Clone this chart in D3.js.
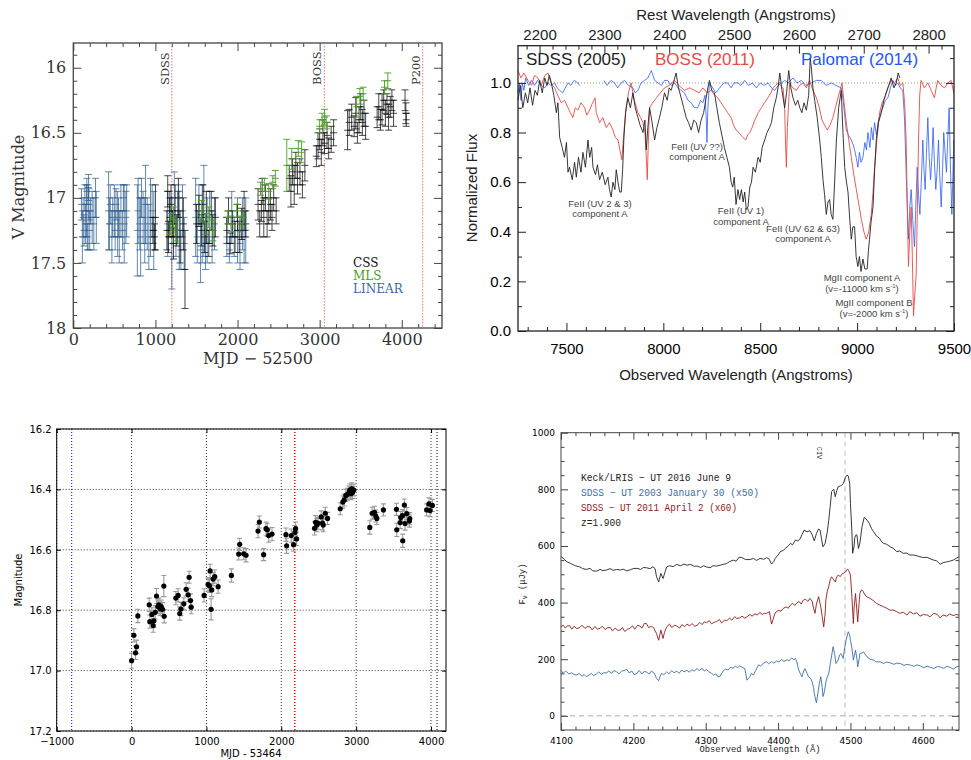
<!DOCTYPE html>
<html><head><meta charset="utf-8">
<script src="https://cdn.jsdelivr.net/npm/d3@7"></script>
<style>body{margin:0;background:#fff}svg{display:block}</style>
</head><body>
<svg id="c" width="971" height="760"></svg>
<script>
// ---------------- DATA ----------------
// Panel A: light curve [MJD-52500, V mag, error]
const linearData = [
[100,17.05,0.12],[110,17.3,0.2],[120,17.15,0.15],[130,17.25,0.12],[140,17.0,0.1],[150,17.2,0.15],[160,17.1,0.2],[165,16.95,0.1],[170,17.3,0.1],[180,17.15,0.25],[185,16.92,0.1],[190,17.05,0.12],[200,17.25,0.15],[210,17.1,0.1],[230,17.15,0.2],[250,17.2,0.2],[270,17.0,0.15],[280,17.15,0.2],
[430,17.1,0.3],[440,17.2,0.2],[450,17.05,0.15],[470,17.3,0.2],[480,17.15,0.15],[500,17.1,0.2],[510,17.25,0.15],[520,17.05,0.12],[540,17.2,0.25],[550,17.15,0.15],[560,17.3,0.2],[580,17.1,0.2],[600,17.25,0.15],[610,17.0,0.1],[620,17.2,0.3],[640,17.15,0.2],[650,17.1,0.2],
[780,17.25,0.35],[790,17.1,0.25],[810,17.2,0.2],[820,17.3,0.3],[830,17.0,0.15],[850,17.15,0.2],[870,17.25,0.25],[880,17.05,0.3],[900,17.2,0.2],[920,17.3,0.25],[940,17.15,0.3],[960,17.1,0.2],[980,17.25,0.3],
[1150,17.2,0.25],[1170,17.1,0.15],[1200,17.35,0.35],[1230,17.0,0.2],[1250,17.3,0.15],[1270,17.15,0.2],[1290,17.25,0.3],[1310,17.4,0.15],[1330,17.1,0.2],[1350,17.35,0.2],
[1490,17.15,0.3],[1510,17.3,0.2],[1530,17.05,0.15],[1550,17.4,0.25],[1570,17.2,0.3],[1590,17.1,0.35],[1610,17.35,0.2],[1630,17.25,0.25],[1660,17.15,0.2],[1690,17.3,0.2],[1720,17.2,0.2],
[1870,17.3,0.15],[1900,17.4,0.1],[1930,17.15,0.2],[1960,17.3,0.15],[2000,17.25,0.25],[2030,17.35,0.2],[2060,17.2,0.2],[2080,17.3,0.2],[2100,17.25,0.25]];
const cssData = [
[970,17.25,0.1],[990,17.3,0.1],[1000,17.15,0.25],
[1140,17.25,0.15],[1150,16.95,0.12],[1160,17.3,0.12],[1175,17.15,0.15],[1190,17.05,0.15],[1210,17.2,0.1],[1220,17.35,0.12],[1240,17.1,0.2],[1260,17.25,0.12],[1280,17.0,0.15],[1300,17.3,0.2],[1340,17.2,0.2],[1360,17.55,0.3],
[1500,17.2,0.15],[1530,17.1,0.12],[1560,17.25,0.12],[1580,17.05,0.15],[1600,17.3,0.12],[1620,17.15,0.2],[1650,17.35,0.1],[1680,17.1,0.15],[1700,17.25,0.12],[1730,17.15,0.15],
[1870,17.25,0.1],[1890,17.1,0.1],[1910,17.35,0.08],[1940,17.2,0.1],[1970,17.3,0.12],[2000,17.15,0.1],[2020,17.3,0.12],[2050,17.2,0.12],[2080,17.1,0.15],[2100,17.2,0.1],
[2250,17.05,0.12],[2270,17.2,0.1],[2290,17.1,0.08],[2300,16.95,0.1],[2320,17.15,0.15],[2340,17.0,0.1],[2360,17.2,0.1],[2380,17.1,0.1],[2400,17.05,0.12],[2420,17.15,0.1],[2440,17.0,0.1],[2470,17.1,0.1],
[2630,16.85,0.1],[2650,16.95,0.12],[2670,16.8,0.1],[2690,16.9,0.15],[2710,16.75,0.1],[2730,16.85,0.12],[2760,16.8,0.1],[2790,16.9,0.1],[2820,16.75,0.12],
[2960,16.68,0.08],[2980,16.6,0.1],[3000,16.55,0.08],[3020,16.65,0.1],[3040,16.5,0.1],[3060,16.58,0.08],[3090,16.52,0.1],[3110,16.62,0.08],[3140,16.55,0.1],[3170,16.5,0.1],
[3340,16.48,0.15],[3360,16.42,0.1],[3390,16.38,0.1],[3420,16.45,0.08],[3440,16.35,0.12],[3460,16.5,0.08],[3480,16.4,0.1],[3500,16.3,0.1],[3520,16.42,0.1],[3540,16.35,0.1],[3560,16.45,0.1],
[3700,16.38,0.08],[3720,16.3,0.1],[3740,16.4,0.08],[3760,16.32,0.12],[3780,16.25,0.08],[3800,16.35,0.1],[3820,16.28,0.08],[3840,16.38,0.1],[3860,16.3,0.08],[3880,16.25,0.08],[3900,16.35,0.1],
[4040,16.25,0.08],[4050,16.35,0.08],[4055,16.4,0.05]];
const mlsData = [
[1180,17.2,0.08],[1220,17.15,0.08],[1250,17.25,0.08],
[1560,17.1,0.08],[1610,17.2,0.08],[1650,17.15,0.08],[1700,17.25,0.08],
[1880,17.15,0.05],[1920,17.2,0.06],[1990,17.1,0.05],[2030,17.2,0.06],[2070,17.15,0.05],
[2280,16.93,0.05],[2330,16.9,0.05],[2380,16.95,0.06],[2430,16.88,0.05],[2460,16.85,0.06],
[2600,16.75,0.2],[2660,16.7,0.08],[2740,16.62,0.06],[2780,16.65,0.08],
[3000,16.45,0.05],[3030,16.4,0.05],[3060,16.38,0.06],[3080,16.42,0.05],
[3450,16.3,0.08],[3490,16.22,0.06],[3530,16.2,0.05],
[3790,16.15,0.05],[3830,16.1,0.06]];
const epochNames = ["SDSS","BOSS","P200"];
const epochMJD = [1200,3057,4255];
const surveyNames = ["CSS","MLS","LINEAR"];

// Panel B: normalized spectra [observed wavelength, flux]
const sdss2005 = [[7250,0.93],[7262,0.99],[7275,0.9],[7288,0.96],[7300,0.92],[7312,0.98],[7325,0.91],[7338,0.97],[7350,0.95],[7362,1.01],[7375,0.96],[7388,1.02],[7400,0.99],[7412,1.03],[7422,1.0],[7435,0.95],[7448,0.88],[7456,0.92],[7465,0.78],[7478,0.74],[7490,0.7],[7500,0.76],[7508,0.64],[7516,0.66],[7530,0.61],[7542,0.68],[7551,0.62],[7562,0.7],[7575,0.64],[7585,0.72],[7598,0.66],[7611,0.77],[7620,0.7],[7630,0.74],[7637,0.66],[7650,0.63],[7660,0.67],[7671,0.61],[7685,0.64],[7700,0.59],[7714,0.62],[7722,0.57],[7731,0.54],[7740,0.6],[7750,0.57],[7757,0.65],[7766,0.6],[7775,0.56],[7783,0.56],[7790,0.65],[7796,0.77],[7805,0.88],[7817,0.94],[7830,0.9],[7843,0.96],[7855,0.9],[7869,0.86],[7880,0.83],[7895,0.8],[7905,0.85],[7912,0.73],[7920,0.82],[7929,0.9],[7940,0.85],[7955,0.77],[7967,0.82],[7980,0.86],[7992,0.9],[8006,0.96],[8020,0.93],[8030,0.98],[8040,0.97],[8052,1.0],[8066,1.04],[8078,0.98],[8092,0.94],[8105,0.9],[8118,0.86],[8130,0.84],[8144,0.81],[8157,0.85],[8170,0.84],[8182,0.8],[8195,0.85],[8208,0.88],[8221,0.94],[8230,0.98],[8238,1.01],[8250,0.97],[8264,0.96],[8276,0.9],[8289,0.84],[8302,0.79],[8315,0.74],[8328,0.7],[8341,0.66],[8350,0.6],[8358,0.58],[8366,0.62],[8375,0.51],[8385,0.57],[8394,0.53],[8403,0.57],[8412,0.52],[8420,0.56],[8428,0.49],[8437,0.5],[8446,0.58],[8455,0.6],[8463,0.66],[8475,0.64],[8489,0.7],[8500,0.68],[8510,0.74],[8523,0.77],[8535,0.8],[8548,0.82],[8558,0.84],[8570,0.9],[8583,0.94],[8592,0.98],[8601,1.04],[8612,0.97],[8626,0.9],[8636,0.96],[8647,1.05],[8658,0.98],[8669,0.94],[8682,0.91],[8694,0.93],[8704,0.9],[8715,0.88],[8726,0.92],[8738,0.89],[8750,0.95],[8758,1.1],[8764,1.06],[8772,0.98],[8781,0.93],[8794,0.86],[8807,0.77],[8815,0.7],[8824,0.61],[8832,0.55],[8841,0.47],[8850,0.52],[8858,0.53],[8866,0.47],[8875,0.45],[8884,0.6],[8893,0.77],[8905,0.9],[8918,0.97],[8927,0.8],[8936,0.66],[8945,0.6],[8953,0.56],[8962,0.45],[8970,0.37],[8978,0.42],[8987,0.42],[8995,0.3],[9004,0.26],[9012,0.3],[9020,0.24],[9030,0.29],[9040,0.25],[9052,0.25],[9058,0.32],[9064,0.37],[9072,0.44],[9082,0.5],[9090,0.64],[9099,0.77],[9110,0.84],[9125,0.88],[9138,0.93],[9150,0.96],[9163,0.99],[9176,1.02],[9190,0.98],[9202,1.0],[9212,1.04],[9220,1.02]];
const boss2011 = [[7250,1.05],[7265,1.02],[7280,1.04],[7302,1.01],[7320,0.99],[7335,1.03],[7353,1.02],[7370,0.99],[7388,1.03],[7405,1.04],[7420,1.0],[7439,0.98],[7455,0.95],[7473,0.92],[7490,0.93],[7508,0.9],[7520,0.88],[7533,0.86],[7546,0.9],[7559,0.89],[7575,0.92],[7594,0.9],[7605,0.87],[7619,0.89],[7635,0.92],[7648,0.94],[7654,0.88],[7671,0.84],[7688,0.86],[7706,0.82],[7722,0.84],[7740,0.81],[7752,0.78],[7766,0.77],[7776,0.73],[7786,0.69],[7796,0.8],[7808,0.9],[7820,0.96],[7834,1.0],[7850,0.93],[7869,0.88],[7883,0.86],[7895,0.84],[7905,0.8],[7912,0.7],[7917,0.61],[7922,0.75],[7929,0.9],[7945,0.92],[7964,0.94],[7985,0.96],[8006,0.98],[8030,0.99],[8058,1.01],[8080,0.99],[8109,0.97],[8135,0.98],[8161,0.97],[8185,0.96],[8204,0.98],[8225,0.96],[8247,0.97],[8265,0.95],[8281,0.94],[8298,0.92],[8315,0.9],[8332,0.88],[8350,0.86],[8362,0.83],[8375,0.81],[8390,0.8],[8400,0.79],[8411,0.78],[8425,0.77],[8435,0.79],[8446,0.8],[8458,0.82],[8472,0.85],[8490,0.88],[8506,0.9],[8522,0.92],[8540,0.94],[8555,0.96],[8566,0.98],[8580,0.99],[8592,1.0],[8605,0.99],[8618,0.98],[8626,0.9],[8631,0.75],[8635,0.66],[8640,0.82],[8652,1.0],[8668,0.98],[8686,0.97],[8703,0.99],[8721,1.0],[8738,0.98],[8755,1.01],[8772,0.97],[8790,0.94],[8805,0.9],[8819,0.85],[8832,0.83],[8846,0.81],[8860,0.83],[8875,0.86],[8888,0.9],[8901,0.94],[8912,0.97],[8922,1.0],[8933,0.92],[8944,0.84],[8957,0.77],[8970,0.7],[8983,0.63],[8996,0.57],[9009,0.51],[9022,0.45],[9035,0.4],[9047,0.37],[9060,0.4],[9073,0.47],[9082,0.56],[9090,0.66],[9103,0.78],[9116,0.88],[9129,0.92],[9142,0.94],[9159,0.98],[9176,1.01],[9193,1.0],[9210,1.02],[9222,0.99],[9236,1.0],[9245,0.92],[9253,0.77],[9259,0.5],[9265,0.26],[9272,0.4],[9279,0.5],[9285,0.3],[9291,0.06],[9298,0.15],[9305,0.23],[9311,0.5],[9317,0.77],[9323,0.95],[9330,1.01],[9347,0.98],[9365,1.0],[9382,0.97],[9399,0.94],[9408,0.98],[9416,1.01],[9433,0.99],[9451,0.98],[9468,1.0],[9485,1.01],[9499,0.96]];
const palomar2014 = [[7250,0.96],[7258,1.0],[7265,0.93],[7272,1.0],[7280,0.97],[7290,1.02],[7305,0.99],[7319,1.01],[7335,0.99],[7350,1.01],[7370,0.99],[7388,0.98],[7405,1.0],[7420,0.99],[7439,1.0],[7452,0.98],[7465,0.97],[7480,0.96],[7494,0.98],[7508,1.0],[7522,0.99],[7540,1.01],[7559,1.0],[7568,0.99],[7569,null],[7690,null],[7693,1.01],[7710,0.99],[7730,1.01],[7748,1.0],[7765,0.98],[7782,1.0],[7800,1.01],[7820,0.99],[7843,0.98],[7855,0.96],[7869,0.97],[7885,1.0],[7903,1.01],[7920,1.02],[7938,1.05],[7955,1.01],[7972,1.0],[7990,0.99],[8006,1.01],[8023,1.01],[8040,0.99],[8058,1.0],[8075,0.98],[8092,0.97],[8109,0.96],[8127,0.93],[8144,0.92],[8160,0.9],[8178,0.9],[8192,0.93],[8204,0.92],[8215,0.95],[8222,0.85],[8225,0.76],[8230,0.9],[8238,1.0],[8255,0.98],[8270,0.96],[8281,0.97],[8300,0.99],[8315,1.0],[8332,1.0],[8350,0.98],[8365,1.0],[8384,1.0],[8400,0.99],[8420,1.01],[8440,0.99],[8460,1.0],[8480,0.98],[8500,1.0],[8520,0.99],[8540,1.0],[8558,0.98],[8575,0.97],[8592,0.99],[8610,1.0],[8626,1.01],[8645,1.0],[8669,1.02],[8690,1.0],[8712,1.01],[8735,0.99],[8764,1.0],[8790,1.01],[8815,1.01],[8840,0.99],[8867,1.0],[8890,0.99],[8918,0.98],[8928,0.93],[8936,0.87],[8944,0.81],[8955,0.79],[8970,0.77],[8980,0.75],[8987,0.73],[8995,0.7],[9004,0.66],[9012,0.72],[9020,0.68],[9030,0.7],[9040,0.76],[9048,0.73],[9056,0.8],[9066,0.74],[9074,0.82],[9082,0.77],[9090,0.84],[9100,0.79],[9108,0.84],[9120,0.88],[9133,0.9],[9146,0.93],[9159,0.94],[9172,0.98],[9185,1.01],[9197,0.99],[9210,1.0],[9222,0.98],[9236,0.97],[9245,0.85],[9253,0.64],[9259,0.5],[9265,0.37],[9272,0.5],[9279,0.57],[9287,0.45],[9296,0.34],[9303,0.5],[9310,0.66],[9317,0.55],[9324,0.47],[9331,0.6],[9339,0.77],[9345,0.65],[9351,0.57],[9358,0.72],[9365,0.86],[9372,0.7],[9379,0.61],[9386,0.7],[9392,0.82],[9399,0.68],[9406,0.57],[9413,0.65],[9420,0.77],[9427,0.62],[9434,0.5],[9441,0.65],[9447,0.8],[9454,0.72],[9461,0.64],[9468,0.78],[9475,0.9],[9482,0.65],[9489,0.47],[9494,0.62],[9499,0.77]];
const specLegend = ["SDSS (2005)","BOSS (2011)","Palomar (2014)"];
const annotations = [
 {lines:["FeII (UV 2 & 3)","component A"], w:7673, f:0.50},
 {lines:["FeII (UV ??)","component A"], w:8174, f:0.73},
 {lines:["FeII (UV 1)","component A"], w:8401, f:0.47},
 {lines:["FeII (UV 62 & 63)","component A"], w:8721, f:0.40},
 {lines:["MgII component A","(v=-11000 km s","-1",")"], w:9025, f:0.20},
 {lines:["MgII component B","(v=-2000 km s","-1",")"], w:9087, f:0.10}];
const zRest = 2.346;

// Panel C: light curve [MJD-53464, mag, err]
const magData = [[0,16.967,0.025],[31,16.883,0.022],[53,16.941,0.022],[67,16.921,0.022],[84,16.819,0.022],[236,16.782,0.022],[244,16.838,0.022],[271,16.814,0.022],[289,16.851,0.022],[298,16.835,0.022],[316,16.807,0.022],[333,16.753,0.025],[351,16.788,0.022],[364,16.782,0.022],[382,16.795,0.022],[396,16.788,0.022],[413,16.797,0.022],[431,16.72,0.035],[436,16.82,0.022],[591,16.76,0.022],[622,16.751,0.022],[644,16.811,0.022],[658,16.796,0.022],[698,16.779,0.02],[729,16.731,0.022],[756,16.749,0.022],[769,16.691,0.02],[787,16.768,0.022],[796,16.79,0.022],[969,16.751,0.022],[1022,16.715,0.022],[1040,16.719,0.022],[1049,16.67,0.022],[1062,16.797,0.035],[1071,16.733,0.022],[1089,16.697,0.022],[1111,16.689,0.022],[1156,16.722,0.022],[1333,16.685,0.022],[1431,16.614,0.02],[1444,16.582,0.02],[1498,16.613,0.02],[1529,16.618,0.022],[1689,16.538,0.022],[1707,16.508,0.02],[1764,16.616,0.02],[1796,16.53,0.022],[1813,16.534,0.022],[1831,16.553,0.022],[1876,16.548,0.022],[2062,16.55,0.022],[2071,16.587,0.025],[2133,16.553,0.022],[2164,16.583,0.022],[2182,16.542,0.022],[2191,16.53,0.022],[2204,16.564,0.022],[2444,16.529,0.022],[2458,16.509,0.022],[2476,16.518,0.022],[2489,16.512,0.02],[2533,16.491,0.02],[2551,16.512,0.022],[2560,16.518,0.022],[2587,16.479,0.02],[2618,16.496,0.02],[2787,16.464,0.02],[2822,16.442,0.02],[2840,16.435,0.02],[2862,16.42,0.02],[2884,16.416,0.02],[2907,16.409,0.02],[2916,16.402,0.02],[2929,16.414,0.02],[2942,16.398,0.02],[2951,16.41,0.02],[2969,16.402,0.02],[3182,16.526,0.022],[3213,16.479,0.02],[3244,16.476,0.02],[3262,16.488,0.02],[3276,16.496,0.02],[3364,16.468,0.02],[3538,16.466,0.02],[3542,16.534,0.022],[3587,16.51,0.02],[3596,16.493,0.02],[3618,16.487,0.02],[3622,16.57,0.022],[3644,16.452,0.02],[3653,16.513,0.022],[3676,16.48,0.02],[3711,16.505,0.02],[3716,16.497,0.02],[3942,16.468,0.02],[3973,16.448,0.02],[3987,16.47,0.02],[4018,16.453,0.02]];
const refLinesC = [[-800,"#0000ff"],[2180,"#ff0000"],[4080,"#000000"]];

// Panel D: spectra [observed wavelength, F_nu microJy]
const keck2016 = [[4100,562],[4104,555],[4108,544],[4112,540],[4115,536],[4120,530],[4126,526],[4130,520],[4135,517],[4140,521],[4144,512],[4149,511],[4154,517],[4158,513],[4163,515],[4168,520],[4172,514],[4177,517],[4182,515],[4186,518],[4191,512],[4196,516],[4200,520],[4205,521],[4210,517],[4214,524],[4218,523],[4223,520],[4227,526],[4230,520],[4232,491],[4235,473],[4238,503],[4241,485],[4244,510],[4246,526],[4250,530],[4255,527],[4260,535],[4265,530],[4270,536],[4274,532],[4279,535],[4284,528],[4288,529],[4293,524],[4297,530],[4301,526],[4306,523],[4310,530],[4315,529],[4320,532],[4324,535],[4329,538],[4333,545],[4338,550],[4342,546],[4346,560],[4350,559],[4355,552],[4361,552],[4366,556],[4370,549],[4375,556],[4380,553],[4384,558],[4387,556],[4391,536],[4394,545],[4396,556],[4400,568],[4403,580],[4407,584],[4410,591],[4414,600],[4417,609],[4420,604],[4424,621],[4427,618],[4430,623],[4433,640],[4436,656],[4440,650],[4444,654],[4447,640],[4450,618],[4453,644],[4456,660],[4458,656],[4460,625],[4462,597],[4465,609],[4468,650],[4470,691],[4472,740],[4474,792],[4477,800],[4479,774],[4481,795],[4483,809],[4486,812],[4488,815],[4490,820],[4493,842],[4495,850],[4497,847],[4499,820],[4500,750],[4502,650],[4503,574],[4505,600],[4506,630],[4508,640],[4509,638],[4511,591],[4513,610],[4516,668],[4519,701],[4521,697],[4523,691],[4526,680],[4529,662],[4532,650],[4536,635],[4540,628],[4543,615],[4546,609],[4550,606],[4555,597],[4559,592],[4564,580],[4568,582],[4573,574],[4578,575],[4582,568],[4587,568],[4592,565],[4596,562],[4601,559],[4606,560],[4610,555],[4615,550],[4619,548],[4622,540],[4624,535],[4628,541],[4633,544],[4637,546],[4642,550],[4646,556],[4650,562]];
const sdss2011 = [[4100,314],[4103,320],[4106,310],[4109,318],[4112,318],[4115,306],[4118,316],[4122,308],[4126,312],[4129,320],[4133,309],[4136,315],[4140,314],[4143,304],[4147,316],[4150,306],[4154,309],[4157,317],[4161,305],[4164,311],[4168,312],[4171,300],[4175,310],[4178,302],[4182,303],[4185,312],[4188,298],[4192,306],[4195,309],[4199,318],[4202,306],[4206,320],[4209,317],[4212,310],[4215,326],[4218,326],[4221,312],[4225,316],[4228,312],[4230,300],[4232,291],[4235,267],[4238,303],[4241,273],[4243,295],[4246,314],[4250,324],[4253,312],[4257,320],[4260,317],[4264,310],[4267,322],[4271,315],[4274,324],[4278,318],[4281,326],[4285,316],[4288,320],[4292,330],[4295,322],[4298,332],[4301,329],[4305,336],[4308,325],[4312,331],[4315,333],[4319,340],[4322,328],[4326,338],[4329,336],[4333,345],[4336,338],[4340,350],[4343,344],[4347,346],[4350,352],[4354,345],[4357,350],[4361,358],[4364,352],[4368,360],[4371,356],[4375,365],[4378,358],[4381,362],[4384,362],[4388,368],[4391,324],[4393,340],[4396,364],[4400,372],[4404,370],[4407,379],[4411,385],[4414,380],[4417,391],[4420,398],[4423,390],[4426,399],[4429,404],[4432,395],[4435,409],[4438,412],[4441,404],[4444,415],[4447,405],[4449,380],[4451,362],[4453,395],[4456,421],[4459,385],[4461,350],[4463,314],[4465,360],[4466,409],[4468,440],[4470,456],[4472,480],[4474,491],[4477,480],[4479,473],[4481,490],[4483,497],[4486,492],[4488,500],[4490,503],[4493,508],[4496,518],[4498,510],[4500,497],[4502,421],[4504,326],[4505,380],[4507,432],[4508,400],[4510,332],[4512,400],[4513,432],[4515,445],[4517,442],[4520,427],[4523,420],[4527,415],[4531,408],[4536,397],[4540,392],[4546,385],[4550,380],[4555,373],[4559,374],[4564,368],[4568,362],[4573,366],[4578,356],[4582,368],[4587,360],[4592,364],[4596,352],[4601,358],[4606,356],[4610,350],[4615,362],[4620,358],[4624,346],[4628,356],[4633,352],[4637,360],[4642,354],[4646,358],[4650,356]];
const sdss2003 = [[4100,161],[4103,150],[4106,158],[4108,155],[4111,148],[4115,152],[4118,146],[4122,144],[4125,150],[4129,140],[4132,146],[4135,138],[4139,145],[4142,150],[4145,142],[4149,148],[4152,155],[4156,147],[4159,152],[4163,152],[4166,158],[4170,150],[4173,160],[4177,155],[4180,148],[4184,158],[4187,160],[4191,164],[4194,152],[4198,158],[4201,145],[4205,150],[4208,160],[4212,148],[4215,157],[4218,155],[4222,148],[4225,158],[4229,150],[4232,132],[4235,124],[4237,140],[4239,150],[4242,145],[4246,155],[4249,148],[4253,160],[4256,152],[4260,158],[4263,150],[4267,162],[4270,155],[4274,161],[4277,154],[4281,163],[4284,158],[4288,167],[4291,160],[4295,168],[4298,158],[4301,164],[4304,156],[4308,150],[4311,144],[4314,148],[4317,138],[4320,140],[4324,158],[4327,165],[4331,162],[4334,171],[4338,168],[4341,176],[4344,170],[4347,176],[4350,172],[4354,167],[4356,140],[4357,126],[4359,132],[4361,138],[4363,150],[4366,144],[4369,160],[4373,180],[4376,176],[4380,186],[4384,191],[4387,184],[4391,192],[4394,186],[4398,194],[4401,190],[4405,199],[4408,192],[4412,198],[4415,195],[4419,204],[4422,198],[4424,203],[4426,190],[4428,167],[4430,152],[4433,138],[4435,155],[4437,167],[4440,150],[4442,138],[4445,132],[4447,120],[4449,100],[4450,79],[4452,55],[4453,46],[4455,80],[4457,114],[4459,138],[4461,100],[4462,68],[4464,85],[4465,103],[4467,130],[4470,150],[4473,197],[4476,244],[4478,220],[4480,185],[4483,197],[4485,215],[4487,220],[4490,203],[4492,240],[4494,267],[4497,297],[4499,285],[4500,267],[4502,240],[4504,197],[4506,220],[4507,232],[4509,200],[4510,173],[4512,200],[4513,220],[4516,222],[4518,226],[4521,215],[4523,208],[4527,200],[4532,197],[4536,190],[4541,191],[4546,185],[4550,190],[4555,187],[4560,182],[4564,186],[4569,185],[4574,178],[4578,182],[4583,179],[4588,175],[4592,180],[4597,176],[4601,170],[4606,175],[4611,171],[4615,167],[4620,174],[4624,173],[4629,168],[4633,175],[4638,171],[4642,165],[4646,172],[4650,176]];
const keckLegend = ["Keck/LRIS \u2212 UT 2016 June 9","SDSS \u2212 UT 2003 January 30 (x50)","SDSS \u2212 UT 2011 April 2 (x60)","z=1.900"];
const civObserved = 4492.5;

// ---------------- HELPERS ----------------
const svg = d3.select("#c");
svg.append("rect").attr("width",971).attr("height",760).attr("fill","#fff");

function frame(g, x, y, o) {
  const [x0,x1] = x.range(), [y0,y1] = y.range();
  const sty = (sel, fs) => { sel.select(".domain").remove();
    sel.selectAll("line").attr("stroke", o.color).attr("stroke-width", o.sw||1);
    sel.selectAll("text").attr("font-family", o.font).attr("font-size", fs||o.fs).attr("fill", o.textColor||"#000"); };
  g.append("g").attr("transform",`translate(0,${y0})`).call(d3.axisBottom(x).tickValues(o.xMajor).tickSize(-o.maj).tickPadding(o.xPad).tickFormat(o.xFmt)).call(s=>sty(s));
  if (o.xMinor) g.append("g").attr("transform",`translate(0,${y0})`).call(d3.axisBottom(x).tickValues(o.xMinor).tickSize(-o.min).tickFormat("")).call(s=>sty(s));
  if (!o.noTop) {
    g.append("g").attr("transform",`translate(0,${y1})`).call(d3.axisTop(x).tickValues(o.xMajor).tickSize(-o.maj).tickFormat("")).call(s=>sty(s));
    if (o.xMinor) g.append("g").attr("transform",`translate(0,${y1})`).call(d3.axisTop(x).tickValues(o.xMinor).tickSize(-o.min).tickFormat("")).call(s=>sty(s));
  }
  g.append("g").attr("transform",`translate(${x0},0)`).call(d3.axisLeft(y).tickValues(o.yMajor).tickSize(-o.maj).tickPadding(o.yPad).tickFormat(o.yFmt)).call(s=>sty(s));
  if (o.yMinor) g.append("g").attr("transform",`translate(${x0},0)`).call(d3.axisLeft(y).tickValues(o.yMinor).tickSize(-o.min).tickFormat("")).call(s=>sty(s));
  g.append("g").attr("transform",`translate(${x1},0)`).call(d3.axisRight(y).tickValues(o.yMajor).tickSize(-o.maj).tickFormat("")).call(s=>sty(s));
  if (o.yMinor) g.append("g").attr("transform",`translate(${x1},0)`).call(d3.axisRight(y).tickValues(o.yMinor).tickSize(-o.min).tickFormat("")).call(s=>sty(s));
  g.append("rect").attr("x",x0).attr("y",y1).attr("width",x1-x0).attr("height",y0-y1)
    .attr("fill","none").attr("stroke",o.color).attr("stroke-width",o.frameW||1.2);
}
const rng = (a,b,s) => d3.range(a, b+s/2, s).map(v=>+v.toFixed(4));

// ---------------- PANEL A ----------------
{
  const g = svg.append("g");
  const x = d3.scaleLinear().domain([0,4490]).range([73.3,442]);
  const y = d3.scaleLinear().domain([18,15.81]).range([328,43]);
  const xMajor = rng(0,4000,1000), yMajor = [16,16.5,17,17.5,18];
  frame(g,x,y,{xMajor, xMinor: rng(0,4400,200).filter(v=>v%1000), yMajor, yMinor: rng(15.9,17.9,0.1).filter(v=>Math.abs(v*2-Math.round(v*2))>1e-6),
    maj:8, min:4, xPad:6, yPad:7, xFmt:d=>d, yFmt:d=>d, font:"'DejaVu Serif', serif", fs:16, color:"#444", textColor:"#333", frameW:1.3});
  epochMJD.forEach((m,i)=>{
    g.append("line").attr("x1",x(m)).attr("x2",x(m)).attr("y1",y.range()[1]).attr("y2",y.range()[0])
      .attr("stroke","#f07070").attr("stroke-width",1).attr("stroke-dasharray","1.5,1.5");
    g.append("text").attr("transform",`translate(${x(m)-3},85) rotate(-90)`).text(epochNames[i])
      .attr("font-family","'DejaVu Serif', serif").attr("font-size",11.5).attr("fill","#333");
  });
  function eb(data, color, op) {
    const s = g.append("g").attr("stroke",color).attr("stroke-opacity",op).attr("stroke-width",1).attr("fill","none");
    data.forEach(([m,v,e])=>{
      const px = x(m), a = y(v-e), b = y(v+e), c = y(v);
      s.append("path").attr("d",`M${px},${a}V${b}M${px-3.5},${a}H${px+3.5}M${px-3.5},${b}H${px+3.5}M${px-3.5},${c}H${px+3.5}`);
    });
  }
  eb(linearData,"#285a8e",0.72);
  eb(cssData,"#000",0.72);
  eb(mlsData,"#4a9d22",0.9);
  const legCol = ["#111","#4a9d22","#3a6aa0"];
  surveyNames.forEach((t,i)=> g.append("text").attr("x",353).attr("y",267+i*13).text(t)
    .attr("font-family","'DejaVu Serif', serif").attr("font-size",12).attr("fill",legCol[i]));
  g.append("text").attr("x",258).attr("y",364).attr("text-anchor","middle").text("MJD \u2212 52500")
    .attr("font-family","'DejaVu Serif', serif").attr("font-size",16).attr("fill","#333");
  g.append("text").attr("transform","translate(24,187) rotate(-90)").attr("text-anchor","middle").text("V Magnitude")
    .attr("font-family","'DejaVu Serif', serif").attr("font-size",16).attr("fill","#333");
}

// ---------------- PANEL B ----------------
{
  const g = svg.append("g");
  const x = d3.scaleLinear().domain([7250,9500]).range([518,954]);
  const y = d3.scaleLinear().domain([0,1.15]).range([331,45.7]);
  const xr = d3.scaleLinear().domain([7250/(1+zRest),9500/(1+zRest)]).range([518,954]);
  const font = "'Liberation Sans', Arial, sans-serif";
  g.append("line").attr("x1",518).attr("x2",954).attr("y1",y(1)).attr("y2",y(1))
    .attr("stroke","#999").attr("stroke-width",1).attr("stroke-dasharray","1,2");
  const line = d3.line().defined(d=>d[1]!==null).x(d=>x(d[0])).y(d=>y(d[1]));
  g.append("path").datum(palomar2014).attr("d",line).attr("fill","none").attr("stroke","#2456f5").attr("stroke-width",0.9).attr("stroke-opacity",0.85);
  g.append("path").datum(boss2011).attr("d",line).attr("fill","none").attr("stroke","#e84a45").attr("stroke-width",0.9);
  g.append("path").datum(sdss2005).attr("d",line).attr("fill","none").attr("stroke","#222").attr("stroke-width",0.9);
  frame(g,x,y,{xMajor:rng(7500,9500,500), xMinor:rng(7300,9400,100).filter(v=>v%500), yMajor:rng(0,1,0.2), yMinor:[0.1,0.3,0.5,0.7,0.9,1.1],
    maj:8, min:4, xPad:12, yPad:7, xFmt:d=>d, yFmt:d3.format(".1f"), font, fs:15, color:"#222", noTop:true, frameW:1.3});
  g.append("g").attr("transform","translate(0,45.7)").call(d3.axisTop(xr).tickValues(rng(2200,2800,100)).tickSize(-8).tickPadding(6).tickFormat(d=>d))
    .call(s=>{s.select(".domain").remove(); s.selectAll("line").attr("stroke","#222"); s.selectAll("text").attr("font-family",font).attr("font-size",15).attr("fill","#222");});
  g.append("g").attr("transform","translate(0,45.7)").call(d3.axisTop(xr).tickValues(rng(2180,2830,20).filter(v=>v%100)).tickSize(-4).tickFormat(""))
    .call(s=>{s.select(".domain").remove(); s.selectAll("line").attr("stroke","#222");});
  g.append("text").attr("x",736).attr("y",20).attr("text-anchor","middle").text("Rest Wavelength (Angstroms)").attr("font-family",font).attr("font-size",15).attr("fill","#222");
  g.append("text").attr("x",736).attr("y",380).attr("text-anchor","middle").text("Observed Wavelength (Angstroms)").attr("font-family",font).attr("font-size",15).attr("fill","#222");
  g.append("text").attr("transform","translate(477,188) rotate(-90)").attr("text-anchor","middle").text("Normalized Flux").attr("font-family",font).attr("font-size",15).attr("fill","#222");
  const legX = [526,655,801], legC = ["#222","#e84a45","#2456f5"];
  specLegend.forEach((t,i)=> g.append("text").attr("x",legX[i]).attr("y",65).text(t).attr("font-family",font).attr("font-size",17).attr("fill",legC[i]));
  annotations.forEach(a=>{
    const t = g.append("text").attr("x",x(a.w)).attr("y",y(a.f)).attr("text-anchor","middle")
      .attr("font-family",font).attr("font-size",9.5).attr("fill","#444");
    t.append("tspan").attr("x",x(a.w)).attr("dy",0).text(a.lines[0]);
    t.append("tspan").attr("x",x(a.w)).attr("dy",10.5).text(a.lines[1]);
    if (a.lines.length>2) {
      t.append("tspan").attr("dy",-4).attr("font-size",6).text(a.lines[2]);
      t.append("tspan").attr("dy",4).text(a.lines[3]);
    }
  });
}

// ---------------- PANEL C ----------------
{
  const g = svg.append("g");
  const x = d3.scaleLinear().domain([-1000,4200]).range([56.7,446]);
  const y = d3.scaleLinear().domain([17.2,16.2]).range([731,429]);
  const font = "'DejaVu Sans', sans-serif";
  const xMajor = rng(-1000,4000,1000), yMajor = rng(16.2,17.2,0.2);
  xMajor.forEach(v=> g.append("line").attr("x1",x(v)).attr("x2",x(v)).attr("y1",429).attr("y2",731).attr("stroke","#000").attr("stroke-width",0.8).attr("stroke-dasharray","1,2"));
  yMajor.forEach(v=> g.append("line").attr("x1",56.7).attr("x2",446).attr("y1",y(v)).attr("y2",y(v)).attr("stroke","#000").attr("stroke-width",0.8).attr("stroke-dasharray","1,2"));
  refLinesC.forEach(([m,c])=> g.append("line").attr("x1",x(m)).attr("x2",x(m)).attr("y1",429).attr("y2",731)
    .attr("stroke",c).attr("stroke-width",c==="#ff0000"?1.6:1).attr("stroke-dasharray","1,2"));
  const e = g.append("g").attr("stroke","#999").attr("stroke-width",1.1).attr("fill","none");
  magData.forEach(([m,v,er])=>{
    const px=x(m), a=y(v-er), b=y(v+er);
    e.append("path").attr("d",`M${px},${a}V${b}M${px-2.5},${a}H${px+2.5}M${px-2.5},${b}H${px+2.5}`);
  });
  g.append("g").selectAll("circle").data(magData).join("circle").attr("cx",d=>x(d[0])).attr("cy",d=>y(d[1])).attr("r",2.6).attr("fill","#000");
  frame(g,x,y,{xMajor, yMajor, maj:4, min:0, xPad:7, yPad:5, xFmt:d=>d<0?"\u2212"+Math.abs(d):d, yFmt:d3.format(".1f"), font, fs:10, color:"#000", frameW:1});
  g.append("text").attr("x",251).attr("y",757).attr("text-anchor","middle").text("MJD - 53464").attr("font-family",font).attr("font-size",10);
  g.append("text").attr("transform","translate(22,580) rotate(-90)").attr("text-anchor","middle").text("Magnitude").attr("font-family",font).attr("font-size",10);
}

// ---------------- PANEL D ----------------
{
  const g = svg.append("g");
  const x = d3.scaleLinear().domain([4100,4650]).range([561,959]);
  const y = d3.scaleLinear().domain([-50,1000]).range([730,432.7]);
  const mono = "'Liberation Mono', 'DejaVu Sans Mono', monospace";
  g.append("line").attr("x1",561).attr("x2",959).attr("y1",y(0)).attr("y2",y(0)).attr("stroke","#aaa").attr("stroke-dasharray","5,4");
  g.append("line").attr("x1",x(civObserved)).attr("x2",x(civObserved)).attr("y1",432.7).attr("y2",730).attr("stroke","#bbb").attr("stroke-dasharray","5,4");
  const line = d3.line().x(d=>x(d[0])).y(d=>y(d[1]));
  g.append("path").datum(sdss2003).attr("d",line).attr("fill","none").attr("stroke","#3c6da6").attr("stroke-width",0.9);
  g.append("path").datum(sdss2011).attr("d",line).attr("fill","none").attr("stroke","#8e1b1b").attr("stroke-width",0.9);
  g.append("path").datum(keck2016).attr("d",line).attr("fill","none").attr("stroke","#222").attr("stroke-width",0.9);
  frame(g,x,y,{xMajor:rng(4100,4600,100), xMinor:rng(4120,4640,20).filter(v=>v%100), yMajor:rng(0,1000,200), yMinor:rng(-50,950,50).filter(v=>v%200),
    maj:7, min:3.5, xPad:8, yPad:6, xFmt:d=>d, yFmt:d=>d, font:"'DejaVu Sans', sans-serif", fs:9, color:"#444", frameW:1});
  const legC = ["#222","#3c6da6","#8e1b1b","#222"];
  const legW = [150,178,156,40];
  keckLegend.forEach((t,i)=> g.append("text").attr("x",581).attr("y",481+i*15).text(t)
    .attr("textLength",legW[i]).attr("lengthAdjust","spacingAndGlyphs")
    .attr("font-family",mono).attr("font-size",10).attr("fill",legC[i]));
  g.append("text").attr("transform",`translate(${x(civObserved)-28},453) rotate(90)`).attr("text-anchor","middle").text("CIV")
    .attr("font-family",mono).attr("font-size",7).attr("fill","#333");
  g.append("text").attr("x",760).attr("y",752).attr("text-anchor","middle").text("Observed Wavelength (\u00c5)")
    .attr("textLength",121).attr("lengthAdjust","spacingAndGlyphs").attr("font-family",mono).attr("font-size",9).attr("fill","#222");
  const yl = g.append("text").attr("transform","translate(525,584) rotate(-90)").attr("text-anchor","middle").attr("font-family",mono).attr("font-size",8.8).attr("fill","#222");
  yl.append("tspan").text("F");
  yl.append("tspan").attr("dy",2).attr("font-size",6.5).text("\u03bd");
  yl.append("tspan").attr("dy",-2).text(" (\u03bcJy)");
}
</script>
</body></html>
